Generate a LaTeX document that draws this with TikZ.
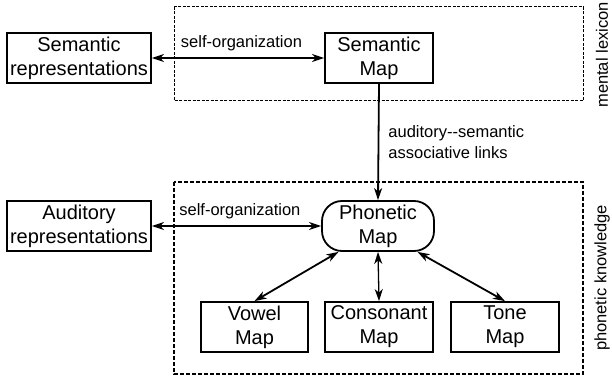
\documentclass[tikz,border=0pt]{standalone}
\usepackage{fontspec}
\setmainfont{Liberation Sans}
\usetikzlibrary{arrows.meta}
\begin{document}
\begin{tikzpicture}[x=1pt,y=-1pt,
  box/.style={draw, line width=1.8pt, inner sep=0pt, align=center,
    font=\fontsize{20}{24}\selectfont},
  bigbox/.style={box, minimum width=144pt, minimum height=50pt},
  mapbox/.style={box, minimum width=108pt, minimum height=50pt},
  rbox/.style={box, rounded corners=20pt, minimum width=112pt, minimum height=50pt},
  lbl/.style={font=\fontsize{16.5}{20.5}\selectfont, inner sep=0pt},
  conn/.style={line width=1.8pt, {Stealth[length=12pt,width=8pt,inset=3.5pt]}-{Stealth[length=12pt,width=8pt,inset=3.5pt]}},
  oneway/.style={line width=1.8pt, -{Stealth[length=12pt,width=8pt,inset=3.5pt]}},
  lexframe/.style={line width=1pt, dash pattern=on 3pt off 1.5pt},
  phonframe/.style={line width=1.7pt, dash pattern=on 4pt off 2pt}
]
\useasboundingbox (0,0) rectangle (612,379);
% frames
\draw[lexframe] (174,7) rectangle (583,101);
\draw[phonframe] (174,182) rectangle (583,374);
\node[lbl, rotate=90] (ml) at (602,55) {mental lexicon};
\node[lbl, rotate=90] (pk) at (602,278) {phonetic knowledge};
% nodes
\node[bigbox] (sr) at (79,58) {Semantic\\representations};
\node[mapbox] (sm) at (379,58) {Semantic\\Map};
\node[bigbox] (ar) at (79,226) {Auditory\\representations};
\node[rbox] (ph) at (378,226) {Phonetic\\Map};
\node[box, minimum width=107pt, minimum height=50pt] (vw) at (254.5,327) {Vowel\\Map};
\node[mapbox] (cn) at (379,327) {Consonant\\Map};
\node[mapbox] (tn) at (505,327) {Tone\\Map};
% connectors
\draw[conn] (sr) -- node[lbl, pos=0.52, above=6pt] {self-organization} (sm);
\draw[conn] (ar) -- node[lbl, pos=0.52, above=6pt] {self-organization} (ph);
\draw[oneway] (sm.south) -- node[lbl, right=9pt, align=left] {auditory{-}{-}semantic\\associative links} (ph.north);
\draw[conn] ([xshift=-39.5pt]ph.south) -- (vw.north);
\draw[conn, line width=1.3pt] (ph.south) -- (cn.north);
\draw[conn] ([xshift=39.5pt]ph.south) -- (tn.north);
\end{tikzpicture}
\end{document}
